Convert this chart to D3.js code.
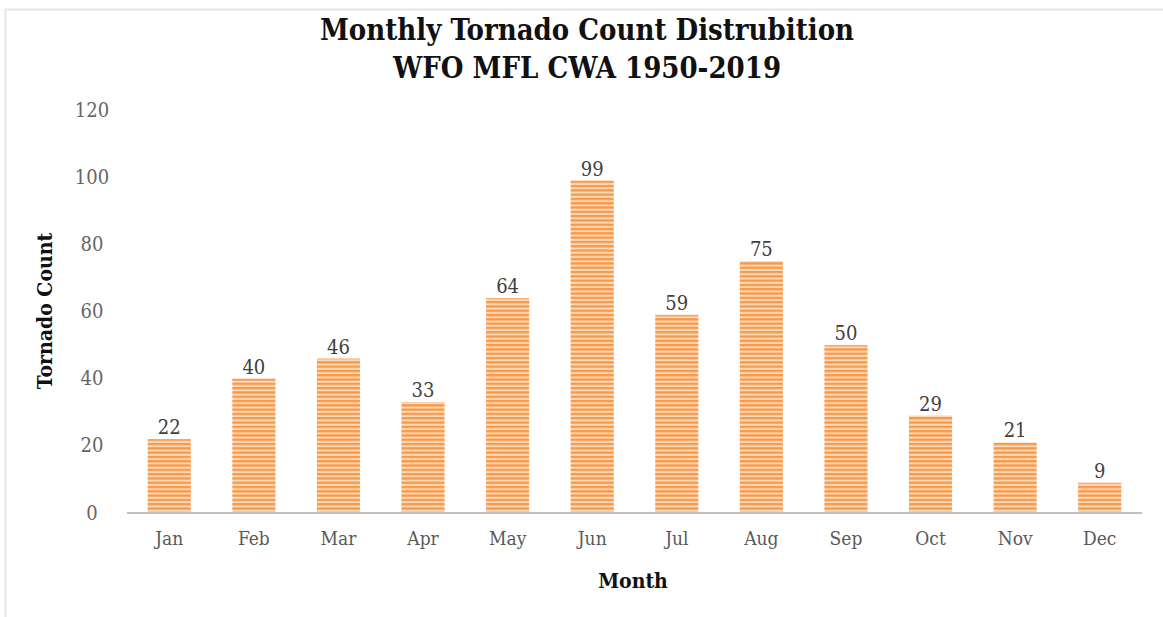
<!DOCTYPE html>
<html>
<head>
<meta charset="utf-8">
<script src="https://cdn.jsdelivr.net/npm/d3@7"></script>
<style>
  body { margin: 0; background: #fff; }
  svg { display: block; }
</style>
</head>
<body>
<div id="chart"></div>
<script>
// data
const months = ["Jan", "Feb", "Mar", "Apr", "May", "Jun", "Jul", "Aug", "Sep", "Oct", "Nov", "Dec"];
const counts = [22, 40, 46, 33, 64, 99, 59, 75, 50, 29, 21, 9];
const yTicks = [0, 20, 40, 60, 80, 100, 120];
const titleLines = ["Monthly Tornado Count Distrubition", "WFO MFL CWA 1950-2019"];

const width = 1163, height = 617;
const margin = { top: 110, bottom: 104, left: 127, right: 21 };
const font = "'DejaVu Serif Condensed', 'Liberation Serif', serif";

const svg = d3.select("#chart").append("svg")
  .attr("width", width)
  .attr("height", height);

// striped fill like the original
const defs = svg.append("defs");
const pat = defs.append("pattern")
  .attr("id", "stripes")
  .attr("patternUnits", "userSpaceOnUse")
  .attr("width", 8)
  .attr("height", 4.3);
pat.append("rect").attr("width", 8).attr("height", 4.3).attr("fill", "#fcd9b8");
pat.append("rect").attr("width", 8).attr("height", 2.3).attr("fill", "#f8994a");

// faint frame of the screenshot
svg.append("rect")
  .attr("x", 5.5).attr("y", 9.5)
  .attr("width", width + 20).attr("height", height + 20)
  .attr("fill", "none")
  .attr("stroke", "#e6e6e6")
  .attr("stroke-width", 2);

const x = d3.scaleBand()
  .domain(months)
  .range([margin.left, width - margin.right])
  .paddingInner(0.49)
  .paddingOuter(0.245);

const y = d3.scaleLinear()
  .domain([0, 120])
  .range([height - margin.bottom, margin.top]);

// y tick labels (no axis line, no gridlines)
const yAxis = d3.axisLeft(y).tickValues(yTicks).tickSize(0).tickPadding(0);
svg.append("g")
  .attr("class", "y-axis")
  .attr("transform", `translate(92,0)`)
  .call(yAxis)
  .call(g => g.select(".domain").remove())
  .selectAll("text")
  .attr("font-family", font)
  .attr("font-size", 20)
  .attr("fill", "#666")
  .attr("text-anchor", "middle")
  .attr("dy", "0.3em");

// bars
svg.selectAll(".bar")
  .data(counts)
  .join("rect")
  .attr("class", "bar")
  .attr("x", (d, i) => x(months[i]))
  .attr("width", x.bandwidth())
  .attr("y", d => y(d))
  .attr("height", d => y(0) - y(d))
  .attr("fill", "url(#stripes)");

// value labels
svg.selectAll(".val")
  .data(counts)
  .join("text")
  .attr("class", "val")
  .attr("x", (d, i) => x(months[i]) + x.bandwidth() / 2)
  .attr("y", d => y(d) - 5)
  .attr("text-anchor", "middle")
  .attr("font-family", font)
  .attr("font-size", 20)
  .attr("fill", "#404040")
  .text(d => d);

// x axis
const xAxis = d3.axisBottom(x).tickSize(0).tickPadding(19);
svg.append("g")
  .attr("class", "x-axis")
  .attr("transform", `translate(0,${y(0)})`)
  .call(xAxis)
  .call(g => g.select(".domain")
    .attr("stroke", "#bfbfbf")
    .attr("stroke-width", 2)
    .attr("d", `M${margin.left},0H${width - margin.right}`))
  .selectAll("text")
  .attr("font-family", font)
  .attr("font-size", 19)
  .attr("fill", "#595959");

// titles
svg.append("text")
  .attr("x", 587)
  .attr("text-anchor", "middle")
  .attr("font-family", font)
  .attr("font-weight", "bold")
  .attr("font-size", 29)
  .attr("fill", "#111")
  .selectAll("tspan")
  .data(titleLines)
  .join("tspan")
  .attr("x", 587)
  .attr("y", (d, i) => 40 + i * 38)
  .text(d => d);

svg.append("text")
  .attr("x", 633)
  .attr("y", 588)
  .attr("text-anchor", "middle")
  .attr("font-family", font)
  .attr("font-weight", "bold")
  .attr("font-size", 21)
  .attr("fill", "#111")
  .text("Month");

svg.append("text")
  .attr("transform", "translate(52,311) rotate(-90)")
  .attr("text-anchor", "middle")
  .attr("font-family", font)
  .attr("font-weight", "bold")
  .attr("font-size", 21)
  .attr("fill", "#111")
  .text("Tornado Count");
</script>
</body>
</html>
